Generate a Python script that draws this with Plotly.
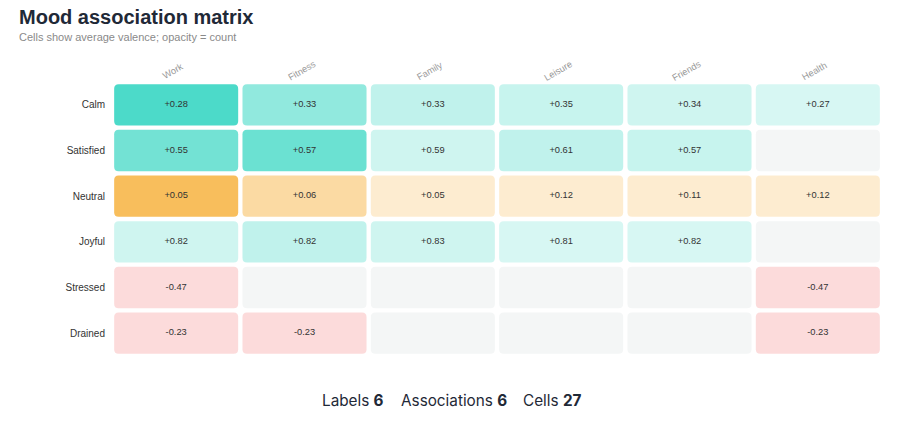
import plotly.graph_objects as go

# ---------------- data ----------------
moods = ["Calm", "Satisfied", "Neutral", "Joyful", "Stressed", "Drained"]
contexts = ["Work", "Fitness", "Family", "Leisure", "Friends", "Health"]
mood_tone = ["pos", "pos", "neu", "pos", "neg", "neg"]

valence = [
    [0.28, 0.33, 0.33, 0.35, 0.34, 0.27],
    [0.55, 0.57, 0.59, 0.61, 0.57, None],
    [0.05, 0.06, 0.05, 0.12, 0.11, 0.12],
    [0.82, 0.82, 0.83, 0.81, 0.82, None],
    [-0.47, None, None, None, None, -0.47],
    [-0.23, -0.23, None, None, None, -0.23],
]
counts = [
    [20, 11, 5, 4, 3, 2],
    [15, 16, 3, 5, 4, 0],
    [15, 7, 2, 2, 2, 2],
    [3, 5, 3, 2, 2, 0],
    [2, 0, 0, 0, 0, 2],
    [2, 2, 0, 0, 0, 2],
]

# ---------------- style ----------------
W, H = 900, 444
ML, MR, MT, MB = 112, 18, 82, 88
PW, PH = W - ML - MR, H - MT - MB
tone_rgb = {"pos": (45, 212, 191), "neu": (245, 158, 11), "neg": (239, 68, 68)}
empty_color = "rgb(244,246,246)"
max_count = max(max(r) for r in counts)

ncol, nrow = len(contexts), len(moods)
xpitch = PW / ncol
ypitch = PH / nrow
gap = 4.3
hw = (xpitch - gap) / 2 / xpitch
hh = (ypitch - gap) / 2 / ypitch
rad = 4.5
rx = rad / xpitch
ry = rad / ypitch


def rounded(c, r):
    x0, x1 = c - hw, c + hw
    y0, y1 = r - hh, r + hh
    return (f"M {x0+rx},{y0} L {x1-rx},{y0} Q {x1},{y0} {x1},{y0+ry} "
            f"L {x1},{y1-ry} Q {x1},{y1} {x1-rx},{y1} L {x0+rx},{y1} "
            f"Q {x0},{y1} {x0},{y1-ry} L {x0},{y0+ry} Q {x0},{y0} {x0+rx},{y0} Z")


shapes = []
tx, ty, tt = [], [], []
for ri, mood in enumerate(moods):
    for ci, ctx in enumerate(contexts):
        v = valence[ri][ci]
        n = counts[ri][ci]
        if v is None:
            col = empty_color
        else:
            a = 0.12 + 0.73 * n / max_count
            rr, gg, bb = tone_rgb[mood_tone[ri]]
            col = f"rgba({rr},{gg},{bb},{a:.3f})"
            tx.append(ci)
            ty.append(ri)
            tt.append(f"{v:+.2f}")
        shapes.append(dict(type="path", xref="x", yref="y", path=rounded(ci, ri),
                           fillcolor=col, line=dict(width=0), layer="below"))

fig = go.Figure()
fig.add_trace(go.Scatter(
    x=tx, y=ty, text=tt, mode="text",
    textfont=dict(family="Liberation Sans, Arial, sans-serif", size=9.3, color="#333333"),
    hoverinfo="skip", showlegend=False,
))


def px_x(px):
    return (px - ML) / PW


def px_y(py):
    return (H - MB - py) / PH


annotations = [
    dict(text="<b>Mood association matrix</b>", xref="paper", yref="paper",
         x=px_x(17), y=px_y(17), xanchor="left", yanchor="middle", showarrow=False,
         font=dict(family="Liberation Sans, Arial, sans-serif", size=20, color="#1f2937")),
    dict(text="Cells show average valence; opacity = count", xref="paper", yref="paper",
         x=px_x(17), y=px_y(37.5), xanchor="left", yanchor="middle", showarrow=False,
         font=dict(family="Liberation Sans, Arial, sans-serif", size=11, color="#8a8a8a")),
]
for ci, ctx in enumerate(contexts):
    annotations.append(dict(text=ctx, xref="x", yref="paper", x=ci, y=px_y(71),
                            xshift=-3, xanchor="center", yanchor="middle", showarrow=False,
                            textangle=-30,
                            font=dict(family="Liberation Sans, Arial, sans-serif", size=9.3, color="#999999")))

n_cells = sum(1 for r in valence for v in r if v is not None)
stats = [("Labels", len(moods), 320), ("Associations", len(contexts), 399), ("Cells", n_cells, 521)]
for lab, val, xpos in stats:
    annotations.append(dict(text=f"{lab} <b>{val}</b>", xref="paper", yref="paper",
                            x=px_x(xpos), y=px_y(400), xanchor="left", yanchor="middle",
                            showarrow=False,
                            font=dict(family="Inter, sans-serif", size=15.3, color="#1f2937")))

fig.update_layout(
    width=W, height=H,
    margin=dict(l=ML, r=MR, t=MT, b=MB),
    paper_bgcolor="white", plot_bgcolor="white",
    shapes=shapes, annotations=annotations,
    xaxis=dict(range=[-0.5, ncol - 0.5], showgrid=False, zeroline=False,
               showticklabels=False, ticks="", fixedrange=True),
    yaxis=dict(range=[nrow - 0.5, -0.5], showgrid=False, zeroline=False,
               tickmode="array", tickvals=list(range(nrow)), ticktext=moods,
               ticks="", ticklabelstandoff=6, fixedrange=True,
               tickfont=dict(family="Liberation Sans, Arial, sans-serif", size=10, color="#333333")),
    showlegend=False,
)

fig.write_html("out.html")
